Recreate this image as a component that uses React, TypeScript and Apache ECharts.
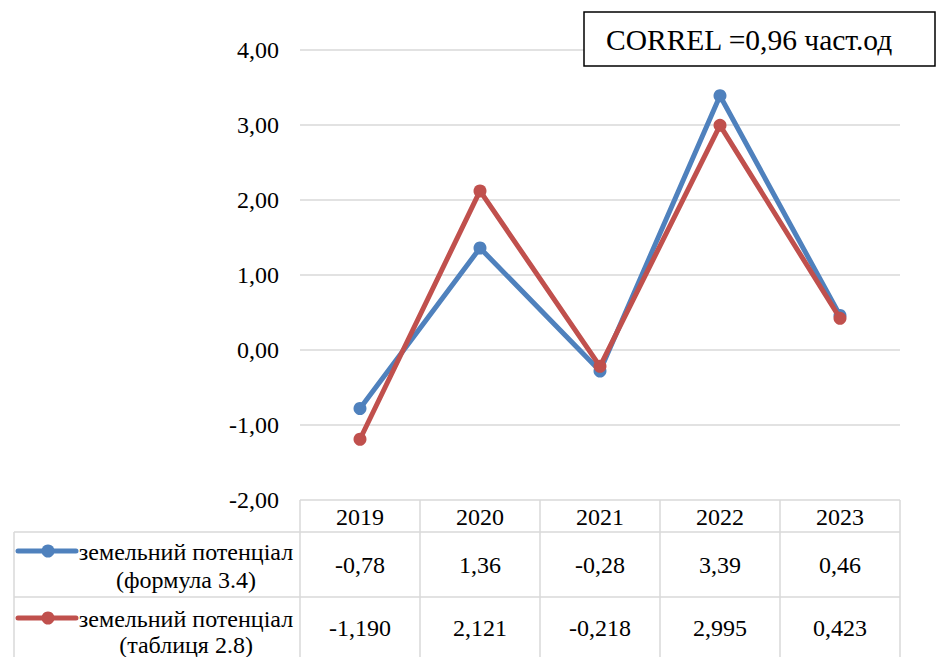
import React, { useEffect, useRef } from "react";
import * as echarts from "echarts";

const years = ["2019", "2020", "2021", "2022", "2023"];
const formulaValues = [-0.78, 1.36, -0.28, 3.39, 0.46];
const formulaLabels = ["-0,78", "1,36", "-0,28", "3,39", "0,46"];
const tableValues = [-1.19, 2.121, -0.218, 2.995, 0.423];
const tableLabels = ["-1,190", "2,121", "-0,218", "2,995", "0,423"];
const seriesNames = ["земельний потенціал (формула 3.4)", "земельний потенціал (таблиця 2.8)"];
const legendLines = [
  ["земельний потенціал", "(формула 3.4)"],
  ["земельний потенціал", "(таблиця 2.8)"],
];
const correlText = "CORREL =0,96 част.од";

const FONT = "Liberation Serif";
const BLUE = "#4f81bd";
const RED = "#c0504d";
const GRID = "#d9d9d9";

export default function App() {
  const ref = useRef<HTMLDivElement>(null);
  useEffect(() => {
    if (!ref.current) return;
    const chart = echarts.init(ref.current, null, { renderer: "svg" });
    const W = 944;
    const left = 300, right = 900, top = 50, bottom = 500;
    const cw = (right - left) / years.length;
    const rowH = 532, rowR = 597, tableBottom = 657, tableLeft = 14;

    const graphics: any[] = [];
    const line = (x1: number, y1: number, x2: number, y2: number) =>
      graphics.push({ type: "line", shape: { x1, y1, x2, y2 }, style: { stroke: GRID, lineWidth: 1.5 }, silent: true });
    for (let i = 0; i <= years.length; i++) line(left + i * cw, bottom, left + i * cw, tableBottom);
    line(tableLeft, rowH, right, rowH);
    line(tableLeft, rowR, right, rowR);
    line(tableLeft, rowH, tableLeft, tableBottom);

    const txt = (t: string, x: number, y: number, size = 24, align = "center") =>
      graphics.push({
        type: "text",
        x, y,
        style: { text: t, fontFamily: FONT, fontSize: size, fill: "#000", align, verticalAlign: "middle" },
        silent: true,
      });
    years.forEach((y, i) => txt(y, left + (i + 0.5) * cw, 517));
    formulaLabels.forEach((v, i) => txt(v, left + (i + 0.5) * cw, 565));
    tableLabels.forEach((v, i) => txt(v, left + (i + 0.5) * cw, 628));

    const key = (color: string, y: number) => {
      graphics.push({ type: "line", shape: { x1: 18, y1: y, x2: 76, y2: y }, style: { stroke: color, lineWidth: 5, lineCap: "round" }, silent: true });
      graphics.push({ type: "circle", shape: { cx: 48, cy: y, r: 6.5 }, style: { fill: color }, silent: true });
    };
    key(BLUE, 551);
    txt(legendLines[0][0], 186, 552);
    txt(legendLines[0][1], 186, 580);
    key(RED, 618);
    txt(legendLines[1][0], 186, 619);
    txt(legendLines[1][1], 186, 645);

    graphics.push({
      type: "rect",
      shape: { x: 584, y: 12, width: 351, height: 54 },
      style: { fill: "#fff", stroke: "#000", lineWidth: 1.5 },
      z: 10,
      silent: true,
    });
    graphics.push({
      type: "text",
      x: 606, y: 40,
      style: { text: correlText, fontFamily: FONT, fontSize: 29.5, fill: "#000", align: "left", verticalAlign: "middle" },
      z: 11,
      silent: true,
    });

    chart.setOption({
      animation: false,
      backgroundColor: "#fff",
      textStyle: { fontFamily: FONT },
      grid: { left, right: W - right, top, bottom: 657 - bottom, containLabel: false },
      xAxis: {
        type: "category",
        data: years,
        boundaryGap: true,
        axisLine: { show: false },
        axisTick: { show: false },
        axisLabel: { show: false },
      },
      yAxis: {
        type: "value",
        min: -2,
        max: 4,
        interval: 1,
        axisLine: { show: false },
        axisTick: { show: false },
        splitLine: { lineStyle: { color: GRID, width: 1.5 } },
        axisLabel: {
          margin: 21,
          fontFamily: FONT,
          fontSize: 24,
          color: "#000",
          formatter: (v: number) => v.toFixed(2).replace(".", ","),
        },
      },
      series: [
        {
          name: seriesNames[0],
          type: "line",
          data: formulaValues,
          symbol: "circle",
          symbolSize: 13,
          lineStyle: { color: BLUE, width: 5 },
          itemStyle: { color: BLUE },
          z: 2,
        },
        {
          name: seriesNames[1],
          type: "line",
          data: tableValues,
          symbol: "circle",
          symbolSize: 13,
          lineStyle: { color: RED, width: 5 },
          itemStyle: { color: RED },
          z: 3,
        },
      ],
      graphic: graphics,
    });
    return () => chart.dispose();
  }, []);
  return <div ref={ref} style={{ width: 944, height: 657, position: "absolute", left: 0, top: 0 }} />;
}
